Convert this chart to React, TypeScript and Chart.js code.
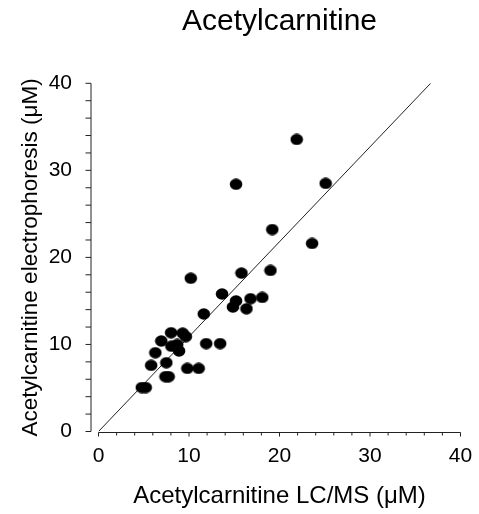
import React, { useEffect, useRef } from "react";
import { Chart, registerables } from "chart.js";

Chart.register(...registerables);

// LC/MS (x) vs electrophoresis (y), µM
const lcmsValues = [
  10.2, 15.8, 19.0, 21.9, 15.2, 25.1, 19.2, 23.6,
  13.65, 15.2, 14.85, 16.8, 18.1, 16.35, 11.63,
  8.02, 9.3, 9.65, 6.94, 8.05, 8.7, 8.9, 11.9, 13.44,
  6.28, 5.82, 7.5, 7.4, 7.75, 9.82, 11.07, 4.78, 5.22,
];
const electroValues = [
  17.6, 18.2, 18.5, 33.55, 28.4, 28.5, 23.2, 21.6,
  15.8, 15.0, 14.3, 15.25, 15.4, 14.1, 13.5,
  11.35, 11.3, 10.9, 10.4, 9.8, 10.0, 9.25, 10.1, 10.1,
  9.05, 7.6, 7.9, 6.3, 6.3, 7.25, 7.25, 5.05, 5.05,
];
// regression line end points
const fitX = [0, 36.7];
const fitY = [0, 40];

const tickValues = [0, 10, 20, 30, 40];
const minorStep = 2;
const axisMin = 0;
const axisMax = 40;

const titleText = "Acetylcarnitine";
const xTitle = "Acetylcarnitine LC/MS (\u03BCM)";
const yTitle = "Acetylcarnitine electrophoresis (\u03BCM)";

const FONT = "'Liberation Sans', Arial, Helvetica, sans-serif";

const axesPlugin = {
  id: "customAxes",
  afterDraw(chart: any) {
    const { ctx, chartArea, scales } = chart;
    const xs = scales.x;
    const ys = scales.y;
    const axX = chartArea.left - 7.5;
    const axY = ys.getPixelForValue(axisMin) + 1;
    ctx.save();
    ctx.strokeStyle = "#222";
    ctx.lineWidth = 1;
    ctx.beginPath();
    // y axis
    ctx.moveTo(axX, ys.getPixelForValue(axisMax));
    ctx.lineTo(axX, ys.getPixelForValue(axisMin));
    for (let v = axisMin; v <= axisMax; v += minorStep) {
      const py = ys.getPixelForValue(v);
      ctx.moveTo(axX - 5.5, py);
      ctx.lineTo(axX, py);
    }
    // x axis
    ctx.moveTo(xs.getPixelForValue(axisMin), axY);
    ctx.lineTo(xs.getPixelForValue(axisMax), axY);
    for (let v = axisMin; v <= axisMax; v += minorStep) {
      const px = xs.getPixelForValue(v);
      ctx.moveTo(px, axY);
      ctx.lineTo(px, axY + (v % 10 === 0 ? 4 : 3));
    }
    ctx.stroke();
    ctx.restore();
  },
};

export default function App() {
  const ref = useRef<HTMLCanvasElement | null>(null);

  useEffect(() => {
    if (!ref.current) return;
    const dot = document.createElement("canvas");
    dot.width = 14;
    dot.height = 12;
    const dctx = dot.getContext("2d")!;
    dctx.fillStyle = "#000";
    dctx.beginPath();
    dctx.ellipse(7, 6, 6.3, 5.7, 0, 0, Math.PI * 2);
    dctx.fill();

    const setTicks = (scale: any) => {
      scale.ticks = tickValues.map((v) => ({ value: v }));
    };

    const chart = new Chart(ref.current, {
      type: "scatter",
      data: {
        datasets: [
          {
            data: lcmsValues.map((x, i) => ({ x, y: electroValues[i] })),
            pointStyle: dot as any,
            pointRadius: 6,
            backgroundColor: "#000",
            borderWidth: 0,
            showLine: false,
          },
          {
            data: fitX.map((x, i) => ({ x, y: fitY[i] })),
            showLine: true,
            borderColor: "#222",
            borderWidth: 1,
            pointRadius: 0,
            fill: false,
          },
        ],
      },
      options: {
        responsive: false,
        maintainAspectRatio: false,
        animation: false,
        events: [],
        layout: { padding: { left: 0, right: 18.5, top: 0, bottom: 0 } },
        plugins: {
          legend: { display: false },
          tooltip: { enabled: false },
          title: {
            display: true,
            text: titleText,
            fullSize: false,
            color: "#000",
            font: { family: FONT, size: 30, weight: "normal" },
            padding: { top: 3.5, bottom: 43.8 },
          },
        },
        scales: {
          x: {
            type: "linear",
            min: axisMin,
            max: axisMax,
            afterBuildTicks: setTicks,
            afterFit: (s: any) => {
              s.height = 82.5;
              s.paddingLeft = 0;
              s.paddingRight = 0;
            },
            grid: { display: false, drawTicks: false },
            border: { display: false },
            ticks: {
              color: "#000",
              font: { family: FONT, size: 21 },
              padding: 12,
              maxRotation: 0,
            },
            title: {
              display: true,
              text: xTitle,
              color: "#000",
              font: { family: FONT, size: 24 },
              padding: { top: 0, bottom: 3.6 },
            },
          },
          y: {
            type: "linear",
            min: axisMin,
            max: axisMax,
            afterBuildTicks: setTicks,
            afterFit: (s: any) => {
              s.width = 98.5;
              s.paddingTop = 0;
              s.paddingBottom = 0;
            },
            grid: { display: false, drawTicks: false },
            border: { display: false },
            ticks: {
              color: "#000",
              font: { family: FONT, size: 21 },
              padding: 26.5,
            },
            title: {
              display: true,
              text: yTitle,
              color: "#000",
              font: { family: FONT, size: 22.5 },
              padding: { top: 17.5, bottom: 0 },
            },
          },
        },
      },
      plugins: [axesPlugin],
    });
    return () => chart.destroy();
  }, []);

  return (
    <div style={{ position: "absolute", left: 0, top: 0, width: 479, height: 514, background: "#fff" }}>
      <canvas ref={ref} width={479} height={514} />
    </div>
  );
}
